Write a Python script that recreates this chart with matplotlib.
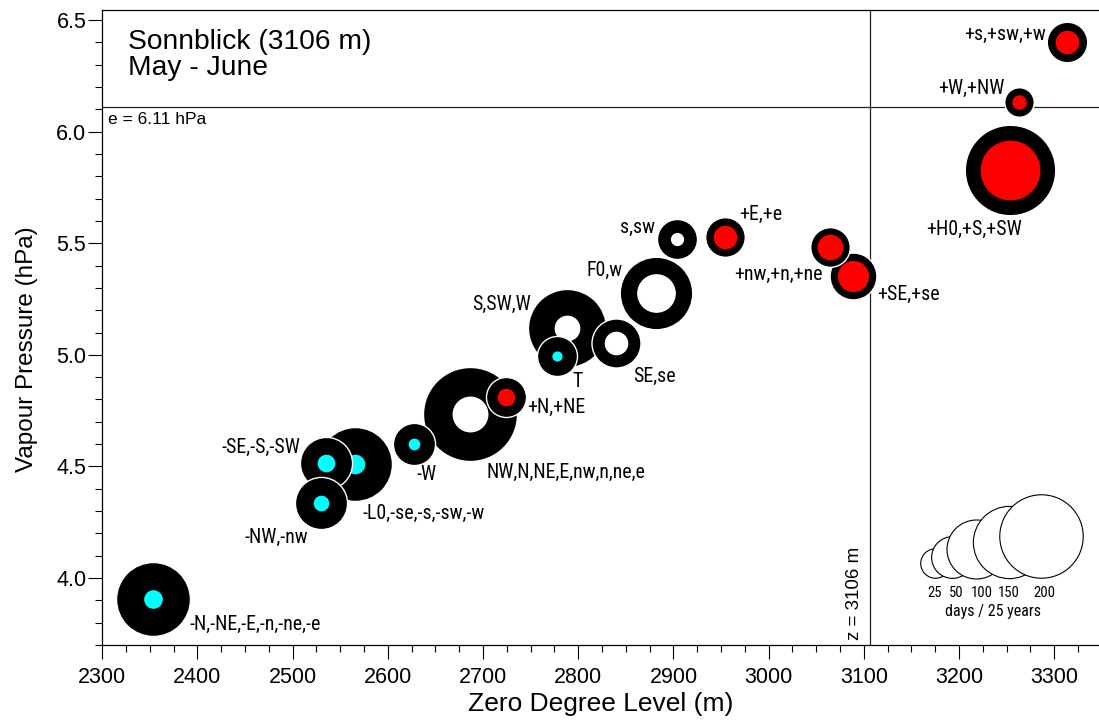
import matplotlib
matplotlib.use('Agg')
import matplotlib.pyplot as plt
import matplotlib.transforms as mtransforms
import numpy as np
from matplotlib import font_manager

# weather-type groups: zero degree level (m), vapour pressure (hPa), days
groups = ['-N,-NE,-E,-n,-ne,-e', '-SE,-S,-SW', '-L0,-se,-s,-sw,-w', '-NW,-nw', '-W',
          'NW,N,NE,E,nw,n,ne,e', '+N,+NE', 'T', 'S,SW,W', 'SE,se', 'F0,w', 's,sw',
          '+E,+e', '+nw,+n,+ne', '+SE,+se', '+H0,+S,+SW', '+W,+NW', '+s,+sw,+w']
zero_level = [2353, 2535, 2565, 2530, 2627, 2686, 2724, 2778, 2788, 2840, 2882, 2904,
              2954, 3064, 3089, 3253, 3263, 3313]
vapour = [3.904, 4.515, 4.509, 4.334, 4.601, 4.733, 4.809, 4.997, 5.122, 5.051, 5.279,
          5.521, 5.530, 5.481, 5.351, 5.830, 6.131, 6.400]
days_total = [157, 78, 157, 78, 51, 254, 46, 46, 175, 69, 151, 46, 45, 45, 63, 235, 25, 47]
days_inner = [10, 9, 11, 7, 4, 37, 9, 3, 19, 16, 43, 5, 16, 19, 28, 103, 6, 16]
kind = ['cold', 'cold', 'cold', 'cold', 'cold', 'neutral', 'warm', 'cold', 'neutral',
        'neutral', 'neutral', 'neutral', 'warm', 'warm', 'warm', 'warm', 'warm', 'warm']

legend_days = [25, 50, 100, 150, 200]
legend_x = [3175, 3193, 3217.5, 3252, 3286]
legend_label_x = [3174, 3197.5, 3224, 3252, 3290]

station_height = 3106
e_sat = 6.11

# label offsets in points (dx, dy, ha)
label_pos = [(26.6, -18, 'left'), (-18.7, 11.5, 'right'), (5.8, -35.3, 'left'),
             (-9.4, -24.5, 'right'), (9.4, -22, 'center'), (12.2, -41.8, 'left'),
             (15.1, -7.2, 'left'), (14.4, -18.7, 'center'), (-25.9, 16.6, 'right'),
             (12.2, -23.8, 'left'), (-24.5, 15.8, 'right'), (-15.8, 7.9, 'right'),
             (10.4, 15.8, 'left'), (-4.7, -19.4, 'right'), (17.3, -13, 'left'),
             (9, -43.2, 'right'), (-10.6, 10.1, 'right'), (-15.1, 5.8, 'right')]

inner_colors = {'cold': '#00ffff', 'neutral': 'white', 'warm': '#ff0000'}

# narrow font for the group labels if one is around
names = {f.name for f in font_manager.fontManager.ttflist}
narrow, lab_fs, leg_fs = 'Liberation Sans', 12, 9.8
for cand, fs, lfs in [('Liberation Sans Narrow', 14, 11), ('Roboto Condensed', 14.3, 10.5)]:
    if cand in names:
        narrow, lab_fs, leg_fs = cand, fs, lfs
        break

plt.rcParams['font.family'] = ['Liberation Sans', 'DejaVu Sans']

K = 18.05  # marker area (pt^2) per day

fig = plt.figure(figsize=(10.99, 7.2), dpi=100)
ax = fig.add_axes([102.3 / 1099, 75 / 720, 996.7 / 1099, 635 / 720])
ax.set_xlim(2300, 3347)
ax.set_ylim(3.7, 6.545)

# reference lines
ax.axvline(station_height, color='#222222', lw=0.9, zorder=1)
ax.axhline(e_sat, color='#222222', lw=0.9, zorder=1)

# bubbles: big ones first
order = sorted(range(len(groups)), key=lambda i: -days_total[i])
z = 3
for i in order:
    ax.scatter(zero_level[i], vapour[i], s=K * days_total[i], c='black',
               edgecolors='white', linewidths=1.0, zorder=z)
    ax.scatter(zero_level[i], vapour[i], s=K * days_inner[i],
               c=inner_colors[kind[i]], linewidths=0, zorder=z + 1)
    z += 2

for i, g in enumerate(groups):
    dx, dy, ha = label_pos[i]
    ax.annotate(g, (zero_level[i], vapour[i]), xytext=(dx, dy), textcoords='offset points',
                ha=ha, va='center', fontsize=lab_fs, family=[narrow, 'DejaVu Sans'],
                zorder=100)

# size legend, circles sitting on the 4.0 line
for n, lx in zip(legend_days, legend_x):
    s = K * n
    r_in = np.sqrt(s) / 2 / 72
    tr = ax.transData + mtransforms.ScaledTranslation(0, r_in, fig.dpi_scale_trans)
    ax.scatter(lx, 4.0, s=s, facecolors='white', edgecolors='black', linewidths=0.8,
               transform=tr, zorder=80)
for n, lx in zip(legend_days, legend_label_x):
    ax.annotate(str(n), (lx, 4.0), xytext=(0, -10.5), textcoords='offset points',
                ha='center', va='center', fontsize=leg_fs, family=[narrow, 'DejaVu Sans'])
ax.annotate('days / 25 years', (3235.5, 4.0), xytext=(0, -24), textcoords='offset points',
            ha='center', va='center', fontsize=leg_fs + 1, family=[narrow, 'DejaVu Sans'])

# texts
ax.text(0.0258, 0.938, 'Sonnblick (3106 m)', transform=ax.transAxes, fontsize=20.3,
        va='baseline', ha='left')
ax.text(0.0258, 0.8976, 'May - June', transform=ax.transAxes, fontsize=20.3,
        va='baseline', ha='left')
ax.annotate('e = 6.11 hPa', (2300, e_sat), xytext=(4, -12.2), textcoords='offset points',
            ha='left', va='baseline', fontsize=12.5)
ax.annotate('z = 3106 m', (station_height, 3.7), xytext=(-4.5, 3.6),
            textcoords='offset points', ha='right', va='bottom', rotation=90, fontsize=13.5)

# axes styling
ax.spines['right'].set_visible(False)
for sp in ['left', 'bottom', 'top']:
    ax.spines[sp].set_linewidth(0.9)
ax.set_xticks(np.arange(2300, 3301, 100))
ax.set_xticks(np.arange(2300, 3347, 25), minor=True)
ax.set_yticks([4.0, 4.5, 5.0, 5.5, 6.0, 6.5])
ax.set_yticks(np.arange(3.7, 6.55, 0.1), minor=True)
ax.set_yticklabels(['4.0', '4.5', '5.0', '5.5', '6.0', '6.5'])
ax.tick_params(which='both', direction='out', width=0.8, top=False, right=False)
ax.tick_params(which='major', length=10, labelsize=15.5)
ax.tick_params(axis='x', which='major', pad=6)
ax.tick_params(axis='y', which='major', pad=1.5)
ax.tick_params(which='minor', length=5)

ax.set_xlabel('Zero Degree Level (m)', fontsize=19, labelpad=3)
ax.set_ylabel('Vapour Pressure (hPa)', fontsize=17.5)
ax.yaxis.set_label_coords(-0.0645, 0.466)

fig.savefig('out.png', dpi=100)
